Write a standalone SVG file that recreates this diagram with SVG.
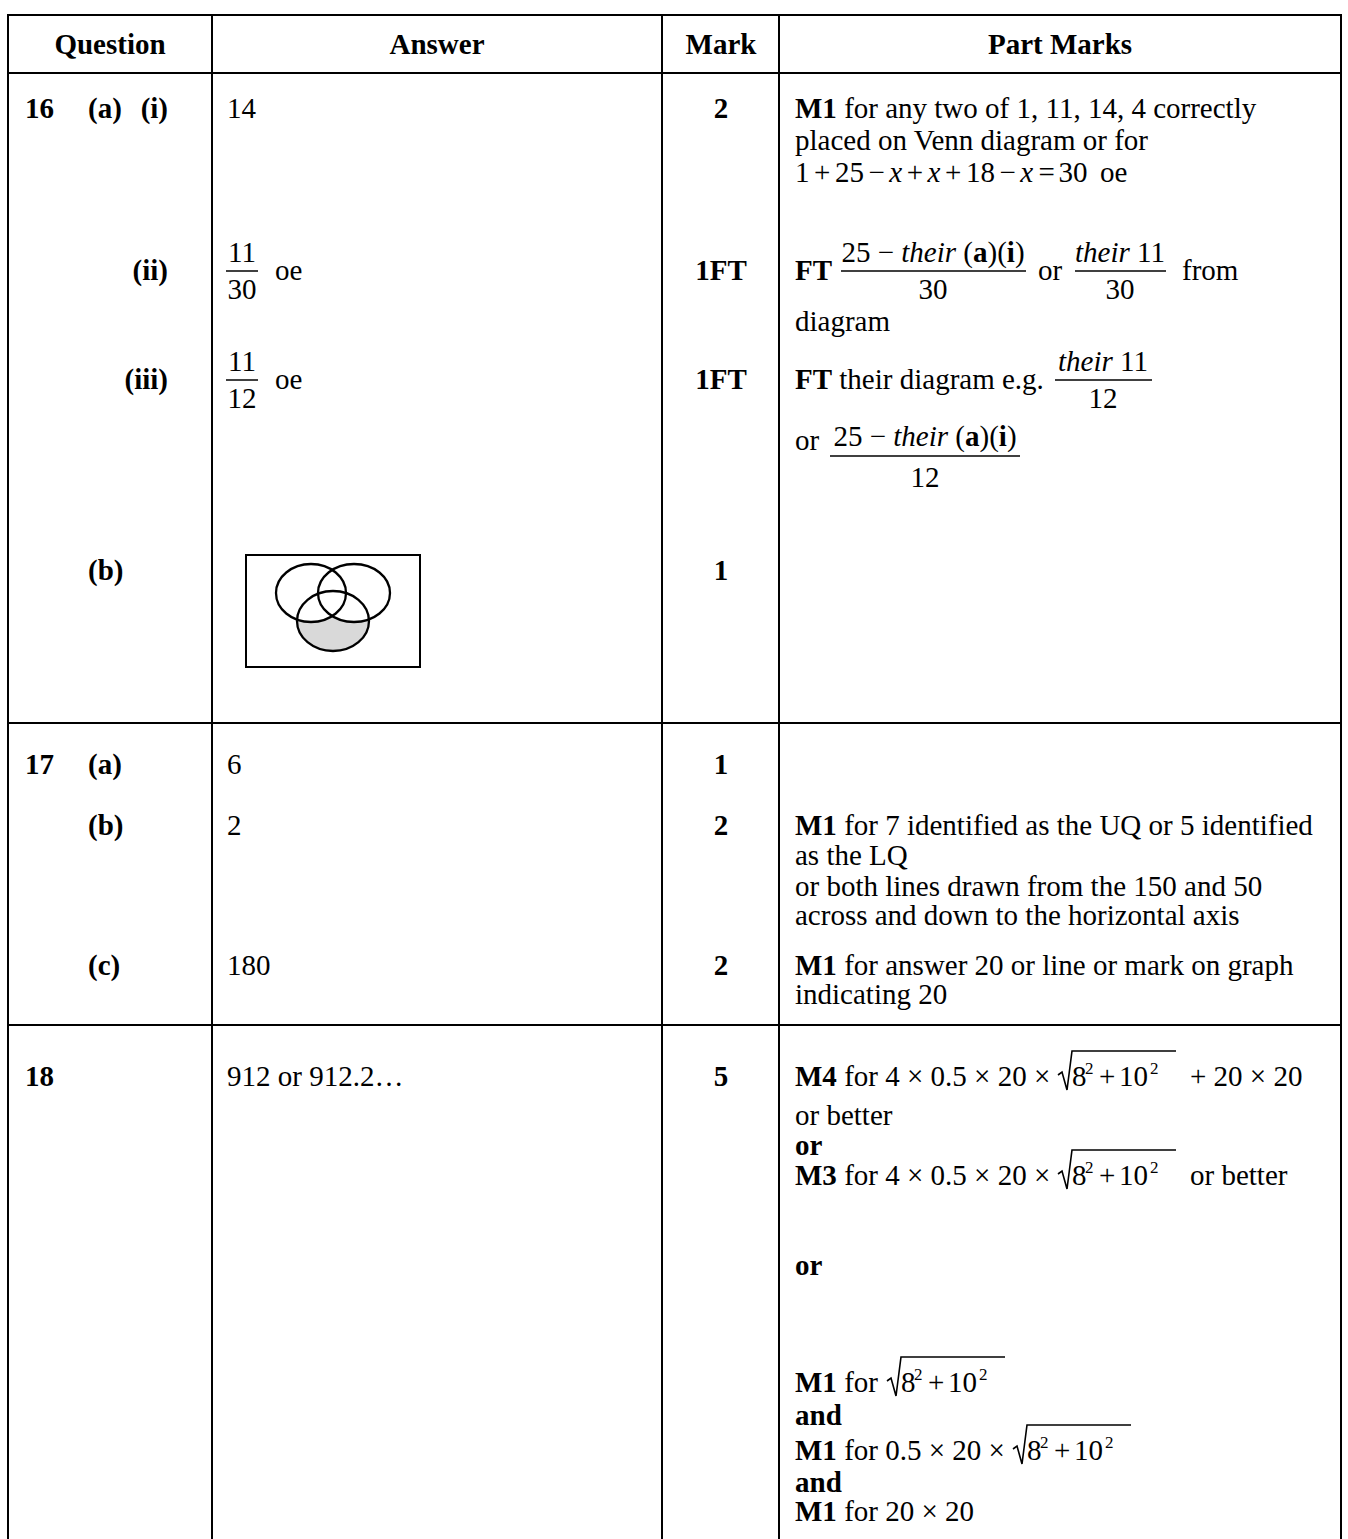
<svg xmlns="http://www.w3.org/2000/svg" width="1348" height="1539" viewBox="0 0 1348 1539">
<style>
text{font-family:"Liberation Serif","Times New Roman",serif;font-size:29px;fill:#000}
.b{font-weight:bold}
.i{font-style:italic}
.c{text-anchor:middle}
.e{text-anchor:end}
.sup{font-size:17px}
.grid line{stroke:#000;stroke-width:2}
.bar{stroke:#000;stroke-width:1.5}
.rad{stroke:#000;stroke-width:1.6;fill:none}
.venn{stroke:#000;stroke-width:2.3;fill:none}
</style>
<defs>
<mask id="vm">
<rect x="240" y="550" width="190" height="120" fill="#fff"/>
<ellipse cx="311" cy="593" rx="35" ry="29" fill="#000"/>
<ellipse cx="354" cy="593" rx="36" ry="29" fill="#000"/>
</mask>
</defs>
<rect width="1348" height="1539" fill="#fff"/>
<g id="grid" class="grid">
<line x1="7" y1="15" x2="1342" y2="15"/>
<line x1="7" y1="73" x2="1342" y2="73"/>
<line x1="7" y1="723" x2="1342" y2="723"/>
<line x1="7" y1="1025" x2="1342" y2="1025"/>
<line x1="8" y1="14" x2="8" y2="1539"/>
<line x1="212" y1="14" x2="212" y2="1539"/>
<line x1="662" y1="14" x2="662" y2="1539"/>
<line x1="779" y1="14" x2="779" y2="1539"/>
<line x1="1341" y1="14" x2="1341" y2="1539"/>
</g>
<g id="header">
<text class="b c" x="110" y="54">Question</text>
<text class="b c" x="437" y="54">Answer</text>
<text class="b c" x="721" y="54">Mark</text>
<text class="b c" x="1060" y="54">Part Marks</text>
</g>
<g id="q16">
<text class="b" x="25" y="118">16</text>
<text class="b" x="88" y="118">(a)</text>
<text class="b e" x="168" y="118">(i)</text>
<text x="227" y="118">14</text>
<text class="b c" x="721" y="118">2</text>
<text x="795" y="118"><tspan class="b">M1</tspan> for any two of 1, 11, 14, 4 correctly</text>
<text x="795" y="150">placed on Venn diagram or for</text>
<text y="182"><tspan x="795">1</tspan><tspan x="814">+</tspan><tspan x="834.9">25</tspan><tspan x="868.4">−</tspan><tspan class="i" x="889.3">x</tspan><tspan x="906.7">+</tspan><tspan class="i" x="927.6">x</tspan><tspan x="945">+</tspan><tspan x="965.9">18</tspan><tspan x="999.4">−</tspan><tspan class="i" x="1020.3">x</tspan><tspan x="1038.5">=</tspan><tspan x="1058.6">30</tspan><tspan x="1100">oe</tspan></text>

<text class="b e" x="168" y="280">(ii)</text>
<text class="c" x="242" y="262">11</text>
<line class="bar" x1="226" y1="271" x2="258" y2="271"/>
<text class="c" x="242" y="299">30</text>
<text x="275" y="280">oe</text>
<text class="b c" x="721" y="280">1FT</text>
<text class="b" x="795" y="280">FT</text>
<text class="c" x="933" y="262">25 − <tspan class="i">their</tspan> (<tspan class="b">a</tspan>)(<tspan class="b">i</tspan>)</text>
<line class="bar" x1="841" y1="271" x2="1026" y2="271"/>
<text class="c" x="933" y="299">30</text>
<text x="1038" y="280">or</text>
<text class="c" x="1120" y="262"><tspan class="i">their</tspan> 11</text>
<line class="bar" x1="1075" y1="271" x2="1166" y2="271"/>
<text class="c" x="1120" y="299">30</text>
<text x="1182" y="280">from</text>
<text x="795" y="331">diagram</text>

<text class="b e" x="168" y="389">(iii)</text>
<text class="c" x="242" y="371">11</text>
<line class="bar" x1="226" y1="380" x2="258" y2="380"/>
<text class="c" x="242" y="408">12</text>
<text x="275" y="389">oe</text>
<text class="b c" x="721" y="389">1FT</text>
<text x="795" y="389"><tspan class="b">FT</tspan> their diagram e.g.</text>
<text class="c" x="1103" y="371"><tspan class="i">their</tspan> 11</text>
<line class="bar" x1="1055" y1="380" x2="1152" y2="380"/>
<text class="c" x="1103" y="408">12</text>
<text x="795" y="450">or</text>
<text class="c" x="925" y="446">25 − <tspan class="i">their</tspan> (<tspan class="b">a</tspan>)(<tspan class="b">i</tspan>)</text>
<line class="bar" x1="830" y1="456" x2="1020" y2="456"/>
<text class="c" x="925" y="487">12</text>

<text class="b" x="88" y="580">(b)</text>
<text class="b c" x="721" y="580">1</text>
</g>
<g id="venn">
<rect x="246" y="555" width="174" height="112" fill="none" stroke="#000" stroke-width="2"/>
<ellipse cx="333" cy="621" rx="36" ry="30" fill="#d9d9d9" mask="url(#vm)"/>
<ellipse class="venn" cx="311" cy="593" rx="35" ry="29"/>
<ellipse class="venn" cx="354" cy="593" rx="36" ry="29"/>
<ellipse class="venn" cx="333" cy="621" rx="36" ry="30"/>
</g>
<g id="q17">
<text class="b" x="25" y="774">17</text>
<text class="b" x="88" y="774">(a)</text>
<text x="227" y="774">6</text>
<text class="b c" x="721" y="774">1</text>
<text class="b" x="88" y="835">(b)</text>
<text x="227" y="835">2</text>
<text class="b c" x="721" y="835">2</text>
<text x="795" y="835"><tspan class="b">M1</tspan> for 7 identified as the UQ or 5 identified</text>
<text x="795" y="865">as the LQ</text>
<text x="795" y="896">or both lines drawn from the 150 and 50</text>
<text x="795" y="925">across and down to the horizontal axis</text>
<text class="b" x="88" y="975">(c)</text>
<text x="227" y="975">180</text>
<text class="b c" x="721" y="975">2</text>
<text x="795" y="975"><tspan class="b">M1</tspan> for answer 20 or line or mark on graph</text>
<text x="795" y="1004">indicating 20</text>
</g>
<g id="q18">
<text class="b" x="25" y="1086">18</text>
<text x="227" y="1086">912 or 912.2…</text>
<text class="b c" x="721" y="1086">5</text>

<text x="795" y="1086"><tspan class="b">M4</tspan> for 4 × 0.5 × 20 ×</text>
<path class="rad" d="M1058,1075 L1062,1072 L1067,1090 L1072,1051 L1176,1051"/>
<text y="1086"><tspan x="1072">8</tspan><tspan class="sup" x="1085" y="1074">2</tspan><tspan x="1099" y="1086">+</tspan><tspan x="1119">10</tspan><tspan class="sup" x="1150" y="1074">2</tspan></text>
<text x="1190" y="1086">+ 20 × 20</text>

<text x="795" y="1125">or better</text>
<text class="b" x="795" y="1155">or</text>

<text x="795" y="1185"><tspan class="b">M3</tspan> for 4 × 0.5 × 20 ×</text>
<path class="rad" d="M1058,1174 L1062,1171 L1067,1189 L1072,1150 L1176,1150"/>
<text y="1185"><tspan x="1072">8</tspan><tspan class="sup" x="1085" y="1173">2</tspan><tspan x="1099" y="1185">+</tspan><tspan x="1119">10</tspan><tspan class="sup" x="1150" y="1173">2</tspan></text>
<text x="1190" y="1185">or better</text>

<text class="b" x="795" y="1275">or</text>

<text x="795" y="1392"><tspan class="b">M1</tspan> for</text>
<path class="rad" d="M887,1381 L891,1378 L896,1396 L901,1357 L1005,1357"/>
<text y="1392"><tspan x="901">8</tspan><tspan class="sup" x="914" y="1380">2</tspan><tspan x="928" y="1392">+</tspan><tspan x="948">10</tspan><tspan class="sup" x="979" y="1380">2</tspan></text>

<text class="b" x="795" y="1425">and</text>

<text x="795" y="1460"><tspan class="b">M1</tspan> for 0.5 × 20 ×</text>
<path class="rad" d="M1013,1449 L1017,1446 L1022,1464 L1027,1425 L1131,1425"/>
<text y="1460"><tspan x="1027">8</tspan><tspan class="sup" x="1040" y="1448">2</tspan><tspan x="1054" y="1460">+</tspan><tspan x="1074">10</tspan><tspan class="sup" x="1105" y="1448">2</tspan></text>

<text class="b" x="795" y="1492">and</text>
<text x="795" y="1521"><tspan class="b">M1</tspan> for 20 × 20</text>
</g>
</svg>
